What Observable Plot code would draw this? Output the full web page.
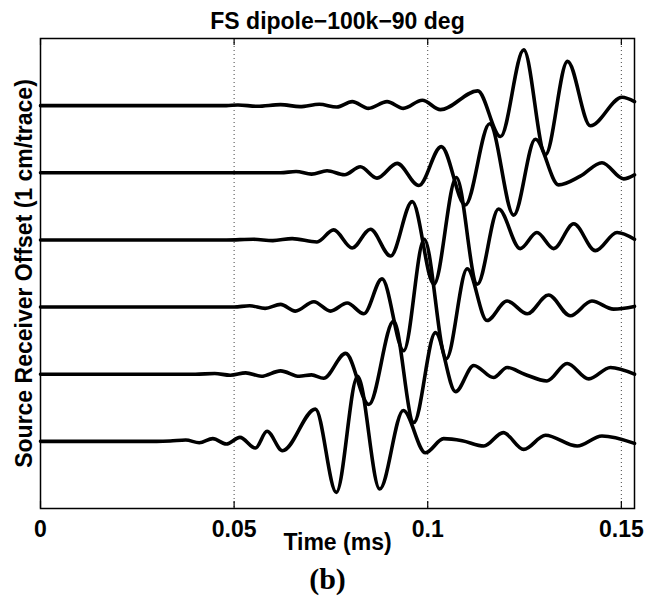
<!DOCTYPE html>
<html><head><meta charset="utf-8">
<script src="https://cdn.jsdelivr.net/npm/d3@7"></script>
<script src="https://cdn.jsdelivr.net/npm/@observablehq/plot@0.6"></script>
<style>html,body{margin:0;padding:0;background:#fff} svg{display:block}</style>
</head><body><div id="chart"></div>
<script>
const title = "FS dipole\u2212100k\u221290 deg";
const xLabel = "Time (ms)";
const yLabel = "Source Receiver Offset (1 cm/trace)";
const caption = "(b)";
const xTicks = [0, 0.05, 0.1, 0.15];
const xTickLabels = ["0", "0.05", "0.1", "0.15"];
const gridTicks = [0.05, 0.1, 0.15];
const offsets = [1, 2, 3, 4, 5, 6];

// [time (ms), amplitude in trace spacings], read at the extrema of each trace
const trace1 = [[0,0],[0.030,0],[0.0335,0.005],[0.0375,0.02],[0.041,-0.02],[0.0445,0.04],[0.048,-0.04],[0.0515,0.06],[0.0555,-0.10],[0.0585,0.15],[0.0625,-0.14],[0.0710,0.48],[0.0764,-0.76],[0.0819,0.97],[0.0876,-0.71],[0.0937,0.46],[0.0994,-0.17],[0.1041,0.04],[0.1089,0.01],[0.1145,-0.07],[0.1195,0.13],[0.1248,-0.12],[0.1304,0.09],[0.1386,-0.07],[0.1450,0.08],[0.1534,-0.03]];
const trace2 = [[0,0],[0.040,0],[0.045,0.01],[0.049,-0.015],[0.053,0.02],[0.057,-0.03],[0.062,0.05],[0.0668,-0.03],[0.0700,-0.01],[0.0731,-0.06],[0.0788,0.31],[0.0848,-0.45],[0.0912,0.79],[0.0964,-0.72],[0.1020,0.62],[0.1072,-0.26],[0.1119,0.13],[0.1170,-0.05],[0.1205,0.10],[0.1250,0.0],[0.1308,-0.10],[0.1360,0.16],[0.1416,-0.07],[0.1472,0.10],[0.1534,0.0]];
const trace3 = [[0,0],[0.045,0],[0.050,0.0],[0.054,0.02],[0.058,-0.02],[0.062,0.04],[0.0658,-0.06],[0.0706,0.08],[0.0749,-0.06],[0.0792,0.06],[0.0835,-0.10],[0.0882,0.42],[0.0938,-0.65],[0.0991,1.01],[0.1048,-0.77],[0.1102,0.57],[0.1153,-0.20],[0.1205,0.09],[0.1257,-0.10],[0.1312,0.18],[0.1368,-0.13],[0.1424,0.09],[0.1480,-0.03],[0.1534,0.01]];
const trace4 = [[0,0],[0.048,0],[0.055,0.01],[0.060,-0.01],[0.065,0.02],[0.0714,-0.03],[0.0757,0.15],[0.0805,-0.12],[0.0852,0.16],[0.0904,-0.24],[0.0960,0.57],[0.1016,-0.66],[0.1074,0.93],[0.1128,-0.66],[0.1183,0.46],[0.1239,-0.13],[0.1282,0.11],[0.1325,-0.13],[0.1377,0.24],[0.1433,-0.16],[0.1489,0.11],[0.1534,0.01]];
const trace5 = [[0,0],[0.055,0],[0.062,0.0],[0.066,0.02],[0.070,-0.02],[0.074,0.03],[0.0785,-0.03],[0.0826,0.09],[0.0869,-0.08],[0.0921,0.14],[0.0977,-0.19],[0.1035,0.39],[0.1097,-0.48],[0.1160,0.73],[0.1222,-0.63],[0.1278,0.50],[0.1338,-0.18],[0.1394,-0.05],[0.1450,0.15],[0.1506,-0.09],[0.1534,-0.03]];
const trace6 = [[0,0],[0.048,0],[0.051,0.01],[0.056,-0.01],[0.062,0.015],[0.067,-0.015],[0.072,0.02],[0.0765,-0.02],[0.0805,0.06],[0.0847,-0.04],[0.0895,0.06],[0.0937,-0.04],[0.0986,0.08],[0.1033,-0.06],[0.1129,0.22],[0.1188,-0.46],[0.1248,0.83],[0.1304,-0.73],[0.1361,0.66],[0.1420,-0.30],[0.1502,0.125],[0.1534,0.06]];
const traces = [trace1, trace2, trace3, trace4, trace5, trace6];

const rows = traces.flatMap((tr, i) => tr.map(([t, a]) => ({trace: offsets[i], t, v: offsets[i] + a})));

const W = 648, H = 602, mT = 38, mB = 94, mL = 40, mR = 14;
const innerH = H - mT - mB;
const sans = "'Liberation Sans', Arial, Helvetica, sans-serif";

const chart = Plot.plot({
  width: W, height: H,
  marginTop: mT, marginBottom: mB, marginLeft: mL, marginRight: mR,
  x: {domain: [0, 0.1534]},
  y: {domain: [0, 7], axis: null},
  style: {fontFamily: sans, background: "white", color: "black"},
  marks: [
    Plot.ruleX(gridTicks, {stroke: "#444", strokeDasharray: "1,3", strokeWidth: 1}),
    Plot.ruleX(xTicks, {stroke: "black", strokeWidth: 1.2, insetTop: innerH - 7}),
    Plot.ruleX(xTicks, {stroke: "black", strokeWidth: 1.2, insetBottom: innerH - 7}),
    Plot.line(rows, {x: "t", y: "v", z: "trace", curve: "monotone-x", stroke: "black", strokeWidth: 3.6}),
    Plot.frame({stroke: "black", strokeWidth: 1.5}),
    Plot.axisX({ticks: xTicks, tickFormat: d => xTickLabels[xTicks.indexOf(d)], tickSize: 0, tickPadding: 12, fontSize: 23, fontWeight: "bold", label: null}),
    Plot.text([title], {text: d => d, frameAnchor: "top", lineAnchor: "bottom", dy: -10, fontSize: 23, fontWeight: "bold"}),
    Plot.text([xLabel], {text: d => d, frameAnchor: "bottom", lineAnchor: "bottom", dy: 41, fontSize: 23, fontWeight: "bold"}),
    Plot.text([caption], {text: d => d, frameAnchor: "bottom", lineAnchor: "bottom", dy: 80, dx: -10, fontSize: 30, fontWeight: "bold", fontFamily: "'Liberation Serif', 'Times New Roman', serif"}),
    Plot.text([yLabel], {text: d => d, frameAnchor: "left", textAnchor: "middle", rotate: -90, lineAnchor: "bottom", dx: -9, fontSize: 23, fontWeight: "bold"})
  ]
});
document.getElementById("chart").append(chart);
</script>
</body></html>
